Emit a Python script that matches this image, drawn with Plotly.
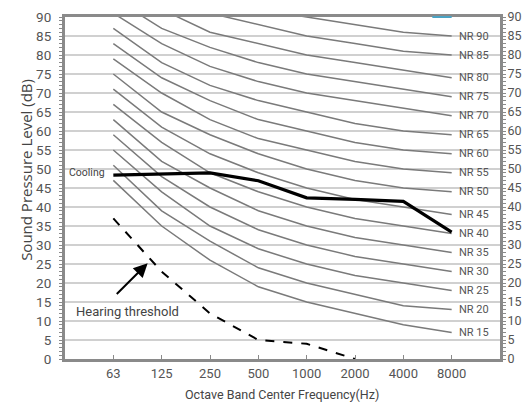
import plotly.graph_objects as go

freq_labels = ["63", "125", "250", "500", "1000", "2000", "4000", "8000"]

nr_names = ["NR 15", "NR 20", "NR 25", "NR 30", "NR 35", "NR 40", "NR 45", "NR 50",
            "NR 55", "NR 60", "NR 65", "NR 70", "NR 75", "NR 80", "NR 85", "NR 90"]
nr15 = [47, 35, 26, 19, 15, 12, 9, 7]
nr20 = [51, 39, 31, 24, 20, 17, 14, 13]
nr25 = [55, 44, 35, 29, 25, 22, 20, 18]
nr30 = [59, 48, 40, 34, 30, 27, 25, 23]
nr35 = [63, 52, 45, 39, 35, 32, 30, 28]
nr40 = [67, 57, 49, 44, 40, 37, 35, 33]
nr45 = [71, 61, 54, 49, 45, 42, 40, 38]
nr50 = [75, 65, 59, 54, 50, 47, 45, 44]
nr55 = [79, 70, 63, 58, 55, 52, 50, 49]
nr60 = [83, 74, 68, 63, 60, 57, 55, 54]
nr65 = [87, 78, 72, 68, 65, 62, 60, 59]
nr70 = [91, 83, 77, 73, 70, 68, 66, 64]
nr75 = [95, 87, 82, 78, 75, 73, 71, 69]
nr80 = [99, 92, 86, 83, 80, 78, 76, 74]
nr85 = [103, 96, 91, 88, 85, 83, 81, 80]
nr90 = [107, 100, 96, 92, 90, 88, 86, 85]
nr_curves = [nr15, nr20, nr25, nr30, nr35, nr40, nr45, nr50,
             nr55, nr60, nr65, nr70, nr75, nr80, nr85, nr90]

cooling = [48.4, 48.7, 49.0, 46.9, 42.4, 42.0, 41.5, 33.4]
hearing = [37, 23, 12, 5, 4, 0]

y_ticks = list(range(0, 91, 5))

xi = list(range(len(freq_labels)))
TICK = "#555555"
FONT = "Roboto"

fig = go.Figure()

for name, vals in zip(nr_names, nr_curves):
    fig.add_trace(go.Scatter(x=xi, y=vals, mode="lines", name=name,
                             line=dict(color="#7a7a7a", width=1.5),
                             hoverinfo="skip", showlegend=False))

fig.add_trace(go.Scatter(x=xi[:len(hearing)], y=hearing, mode="lines",
                         line=dict(color="black", width=2, dash="dash"),
                         hoverinfo="skip", showlegend=False))
fig.add_trace(go.Scatter(x=xi, y=cooling, mode="lines",
                         line=dict(color="black", width=3.2),
                         hoverinfo="skip", showlegend=False))
# invisible trace to hold right axis
fig.add_trace(go.Scatter(x=[0], y=[0], yaxis="y2", mode="markers",
                         marker=dict(opacity=0), showlegend=False, hoverinfo="skip"))

annotations = []
for name, vals in zip(nr_names, nr_curves):
    annotations.append(dict(x=xi[-1], y=vals[-1], xref="x", yref="y", text=name,
                            showarrow=False, xanchor="left", xshift=5,
                            font=dict(family=FONT, size=11, color=TICK)))
annotations.append(dict(x=0, y=cooling[0], xref="x", yref="y", text="Cooling",
                        showarrow=False, xanchor="right", xshift=-6, yshift=3,
                        font=dict(family=FONT, size=10.5, color="#444")))
annotations.append(dict(x=0.71, y=25.2, xref="x", yref="y", ax=0.04, ay=16.7,
                        axref="x", ayref="y", text="", showarrow=True,
                        arrowhead=2, arrowsize=1.4, arrowwidth=2, arrowcolor="black"))
annotations.append(dict(x=0.3, y=12.4, xref="x", yref="y", text="Hearing threshold",
                        showarrow=False, xanchor="center",
                        font=dict(family=FONT, size=13, color="#444")))
annotations.append(dict(x=0.499, y=-0.105, xref="paper", yref="paper",
                        text="Octave Band Center Frequency(Hz)", showarrow=False,
                        yanchor="middle", font=dict(family=FONT, size=12.5, color="#444")))
annotations.append(dict(x=-0.0897, y=0.553, xref="paper", yref="paper",
                        text="Sound Pressure Level (dB)", showarrow=False, textangle=-90,
                        xanchor="center", yanchor="middle",
                        font=dict(family="Open Sans", size=15, color="#444")))

shapes = [
    dict(type="rect", xref="x", yref="y", x0=7.02, x1=7.77, y0=0.3, y1=89.7,
         fillcolor="white", line=dict(width=0), layer="below"),
    dict(type="line", xref="x", yref="paper", x0=6.6, x1=7.0, y0=1.0, y1=1.0,
         line=dict(color="#4aa3c4", width=2)),
]

axis_line = dict(showline=True, linecolor="#8a8a8a", linewidth=3, automargin=False)

fig.update_layout(
    width=524, height=408,
    margin=dict(l=65, r=24, t=17, b=49),
    paper_bgcolor="white", plot_bgcolor="white",
    showlegend=False,
    xaxis=dict(range=[-1, 8], tickvals=xi, ticktext=freq_labels,
               ticks="inside", ticklen=4, tickcolor="#8a8a8a", tickwidth=1,
               showgrid=False, zeroline=False, mirror=True,
               tickfont=dict(family=FONT, size=13, color=TICK), **axis_line),
    yaxis=dict(range=[0, 90], tickvals=y_ticks, ticks="", showgrid=True,
               gridcolor="#d0d0d0", gridwidth=1.5, zeroline=False, mirror=True,
               ticklabelstandoff=8,
               minor=dict(dtick=1, ticks="outside", ticklen=3, tickcolor="#8a8a8a",
                          showgrid=False),
               tickfont=dict(family=FONT, size=13.5, color=TICK), **axis_line),
    yaxis2=dict(range=[0, 90], tickvals=y_ticks, overlaying="y", side="right",
                ticks="", showgrid=False, zeroline=False, ticklabelstandoff=2,
                minor=dict(dtick=1, ticks="outside", ticklen=3, tickcolor="#8a8a8a",
                           showgrid=False),
                tickfont=dict(family=FONT, size=12.5, color=TICK), **axis_line),
    annotations=annotations,
    shapes=shapes,
)

fig.write_html("out.html", config={"displayModeBar": False, "staticPlot": True},
               post_script=("document.body.style.margin='0px';"
                            "document.body.style.padding='0px';"
                            "document.body.style.overflow='hidden';"
                            "document.documentElement.style.overflow='hidden';"))
